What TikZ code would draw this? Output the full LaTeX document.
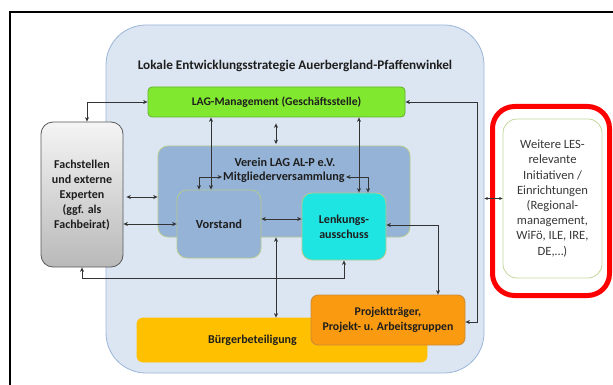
\documentclass[tikz,border=0pt]{standalone}
\usepackage{fontspec}
\setmainfont{Carlito}
\usetikzlibrary{arrows.meta}
\definecolor{lesbg}{HTML}{DCE6F2}
\definecolor{lesline}{HTML}{9BB5D8}
\definecolor{laggreen}{HTML}{80E82E}
\definecolor{lagline}{HTML}{62B02C}
\definecolor{vblue}{HTML}{95B3D7}
\definecolor{vline}{HTML}{B5C98E}
\definecolor{lcyan}{HTML}{1EE5E2}
\definecolor{porange}{HTML}{F99A10}
\definecolor{pline}{HTML}{C98A3A}
\definecolor{byellow}{HTML}{FFC000}
\definecolor{wline}{HTML}{C3D69B}
\definecolor{txt}{HTML}{1E1E1E}
\definecolor{arr}{HTML}{333333}
\tikzset{
  box/.style={rectangle, rounded corners=#1, inner sep=0pt, line width=0.8pt},
  box/.default=8pt,
  lbl/.style={font=\bfseries, text=txt, align=center, inner sep=1pt},
  dbl/.style={{Stealth[length=4.5pt,width=4pt]}-{Stealth[length=4.5pt,width=4pt]}, line width=0.9pt, draw=arr},
}
\begin{document}
\begin{tikzpicture}[x=1pt,y=-1pt]
\useasboundingbox (0,0) rectangle (613,385);
% outer frame (partly visible)
\draw[line width=1.4pt, black] (10,385) -- (10,12) -- (613,12);
% LES background
\node[box=40pt, fill=lesbg, draw=lesline, minimum width=378pt, minimum height=348pt] (les) at (295,199) {};
\node[lbl, font=\bfseries\fontsize{13.2}{15}\selectfont] (title) at (295,66) {Lokale Entwicklungsstrategie Auerbergland-Pfaffenwinkel};
% LAG-Management
\node[box=4pt, fill=laggreen, draw=lagline, minimum width=257pt, minimum height=30pt, lbl, font=\bfseries\fontsize{11.6}{13}\selectfont] (lag) at (276.5,102) {LAG-Management (Geschäftsstelle)};
% Fachstellen
\node[box=12pt, top color=gray!8, bottom color=gray!55, draw=gray!70!black, minimum width=82pt, minimum height=145pt] (fach) at (82,194.5) {};
\node[lbl, font=\bfseries\fontsize{12}{15}\selectfont] (fachtxt) at (82,195) {Fachstellen\\und externe\\Experten\\(ggf. als\\Fachbeirat)};
% Verein
\node[box=10pt, fill=vblue, draw=vline, minimum width=252pt, minimum height=91pt] (verein) at (284,191.5) {};
\node[lbl, font=\bfseries\fontsize{12.2}{14}\selectfont] (vtitle) at (285,162) {Verein LAG AL-P e.V.};
\node[lbl, font=\bfseries\fontsize{12.2}{14}\selectfont] (mv) at (284,177) {Mitgliederversammlung};
% Vorstand
\node[box=10pt, fill=vblue, draw=vline, minimum width=84pt, minimum height=68pt, lbl, font=\bfseries\fontsize{12.4}{14}\selectfont] (vorstand) at (219,224) {Vorstand};
% Lenkungsausschuss
\node[box=10pt, fill=lcyan, draw=vline, minimum width=84pt, minimum height=67pt, lbl, font=\bfseries\fontsize{12}{15}\selectfont] (lenk) at (344,226.5) {Lenkungs-\\ausschuss};
% Buergerbeteiligung
\node[box=6pt, fill=byellow, draw=byellow, minimum width=290pt, minimum height=44pt] (buerger) at (282,340) {};
\node[lbl, font=\bfseries\fontsize{12}{13}\selectfont] (buergertxt) at (252.5,340) {Bürgerbeteiligung};
% Projekttraeger
\node[box=7pt, fill=porange, draw=pline, minimum width=154pt, minimum height=50pt, lbl, font=\bfseries\fontsize{11.8}{15}\selectfont] (projekt) at (388,320) {Projektträger,\\Projekt- u. Arbeitsgruppen};
% red highlight and further initiatives
\node[box=22pt, draw=red, line width=5pt, minimum width=117pt, minimum height=189pt] (red) at (551,201) {};
\node[box=14pt, fill=white, draw=wline, minimum width=99pt, minimum height=159pt, align=center, text=black!78, font=\fontsize{12.6}{15.2}\selectfont] (weitere) at (552.5,198.5) {Weitere LES-\\relevante\\Initiativen /\\Einrichtungen\\(Regional-\\management,\\WiFö, ILE, IRE,\\DE,\dots)};
% connectors
\coordinate (bus) at (477,0);
\draw[dbl] ([xshift=5pt]fach.north) |- (lag.west);
\draw[dbl] ([xshift=-8pt]vorstand.north) -- ([xshift=-8pt]vorstand.north |- lag.south);
\draw[dbl] ([xshift=-20pt]vorstand.north) |- (mv.west);
\draw[dbl] ([yshift=-6pt,xshift=-0.5pt]lag.south) -- ([yshift=1.5pt,xshift=-0.5pt]lag.south |- verein.north);
\draw[dbl] ([xshift=15pt]lenk.north) -- ([xshift=15pt]lenk.north |- lag.south);
\draw[dbl] ([xshift=24pt]lenk.north) |- (mv.east);
\draw[dbl, shorten <=3pt] ([yshift=-2.5pt]fach.east) -- ([yshift=-2.5pt]fach.east -| verein.west);
\draw[dbl] (vorstand.west) -- (vorstand.west -| fach.east);
\draw[dbl] ([yshift=5pt]vorstand.east) -- ([yshift=5pt]vorstand.east -| lenk.west);
\draw[dbl] ([xshift=-8pt]verein.south) -- ([xshift=-8pt]verein.south |- buerger.north);
\draw[dbl] (fach.south) -- ++(0,11.5) -| (lenk.south);
\draw[dbl] ([yshift=1.5pt]lenk.east) -| ([xshift=50pt]projekt.north);
\draw[dbl] (lag.east) -- (lag.east -| bus) |- ([yshift=-2pt]projekt.east);
\draw[{Stealth[length=3.5pt,width=3pt]}-{Stealth[length=3.5pt,width=3pt]}, line width=0.7pt, draw=arr] (weitere.west -| les.east) -- (weitere.west);
\end{tikzpicture}
\end{document}
